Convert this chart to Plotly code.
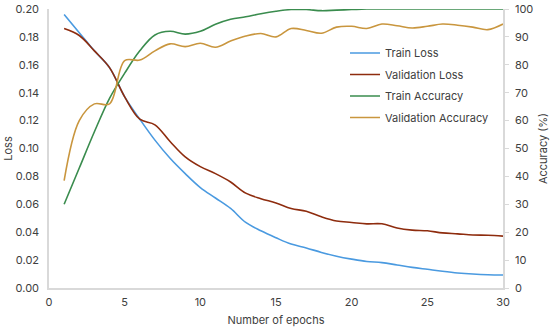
import plotly.graph_objects as go

epochs = list(range(1, 31))
train_loss = [0.196, 0.183, 0.170, 0.158, 0.137, 0.121, 0.106, 0.093, 0.082, 0.072,
              0.0645, 0.057, 0.047, 0.041, 0.036, 0.0315, 0.0287, 0.0255, 0.0228, 0.0207,
              0.019, 0.0182, 0.0165, 0.0148, 0.0134, 0.012, 0.0108, 0.010, 0.0095, 0.0093]
val_loss = [0.186, 0.181, 0.170, 0.158, 0.137, 0.121, 0.117, 0.105, 0.094, 0.087,
            0.082, 0.076, 0.068, 0.064, 0.061, 0.057, 0.055, 0.051, 0.048, 0.047,
            0.046, 0.046, 0.043, 0.0415, 0.041, 0.0395, 0.0388, 0.038, 0.0378, 0.0372]
train_acc = [30, 43, 56, 68, 77, 85, 90.7, 92, 91, 92,
             94.5, 96.3, 97.2, 98.3, 99.2, 99.8, 99.8, 99.4, 99.6, 99.8,
             100, 100, 100, 100, 100, 100, 100, 100, 100, 100]
val_acc = [38.5, 60, 66, 66, 81.5, 81.7, 85, 87.5, 86.5, 87.7,
           86.3, 88.5, 90.3, 91.2, 90, 93, 92.3, 91.3, 93.5, 93.8,
           93, 94.6, 94, 93.2, 93.8, 94.6, 94.2, 93.5, 92.6, 94.6]

FONT = "Inter"
TXT = "#404040"
AX = "#d9d9d9"

fig = go.Figure()
fig.add_trace(go.Scatter(x=epochs, y=train_loss, name="Train Loss", mode="lines", legendgroup="a",
                         line=dict(color="#4A9AE0", width=1.6, shape="spline")))
fig.add_trace(go.Scatter(x=epochs, y=val_loss, name="Validation Loss", mode="lines", legendgroup="b",
                         line=dict(color="#8E2C0E", width=1.6, shape="spline")))
fig.add_trace(go.Scatter(x=epochs, y=train_acc, name="Train Accuracy", mode="lines", yaxis="y2",
                         legendgroup="c", line=dict(color="#3A8C4E", width=1.6, shape="spline")))
fig.add_trace(go.Scatter(x=epochs, y=val_acc, name="Validation Accuracy", mode="lines", yaxis="y2",
                         legendgroup="d", line=dict(color="#C9963E", width=1.6, shape="spline")))

fig.update_layout(
    width=550, height=330,
    margin=dict(l=49, r=47, t=9, b=42),
    paper_bgcolor="white", plot_bgcolor="white",
    font=dict(family=FONT, size=11, color=TXT),
    showlegend=True,
    legend=dict(x=0.652, y=0.894, xanchor="left", yanchor="top",
                bgcolor="rgba(0,0,0,0)", font=dict(size=11, color=TXT),
                itemwidth=30, tracegroupgap=2.5),
    xaxis=dict(range=[0, 30], tickvals=[0, 5, 10, 15, 20, 25, 30], automargin=False,
               showgrid=False, zeroline=False, showline=True, linecolor=AX, linewidth=1.5,
               ticks="outside", ticklen=3, tickcolor="rgba(0,0,0,0)",
               title=dict(text="Number of epochs", standoff=8, font=dict(size=11))),
    yaxis=dict(range=[0, 0.2], tickvals=[0, 0.02, 0.04, 0.06, 0.08, 0.10, 0.12, 0.14, 0.16, 0.18, 0.20],
               tickformat=".2f", showgrid=False, zeroline=False, showline=True, automargin=False,
               linecolor=AX, linewidth=1.5, ticks="outside", ticklen=6,
               tickcolor="rgba(0,0,0,0)",
               title=dict(text="Loss", standoff=1, font=dict(size=11))),
    yaxis2=dict(range=[0, 100], tickvals=list(range(0, 101, 10)), overlaying="y", side="right",
                showgrid=False, zeroline=False, showline=True, linecolor=AX, linewidth=1.5,
                automargin=False, ticks="outside", ticklen=4, tickcolor=AX, ticklabelstandoff=4,
                title=dict(text="Accuracy (%)", standoff=8, font=dict(size=11))),
)

fig.write_html("out.html", config={"displayModeBar": False},
               post_script="document.body.style.margin='0';document.body.style.padding='0';")
